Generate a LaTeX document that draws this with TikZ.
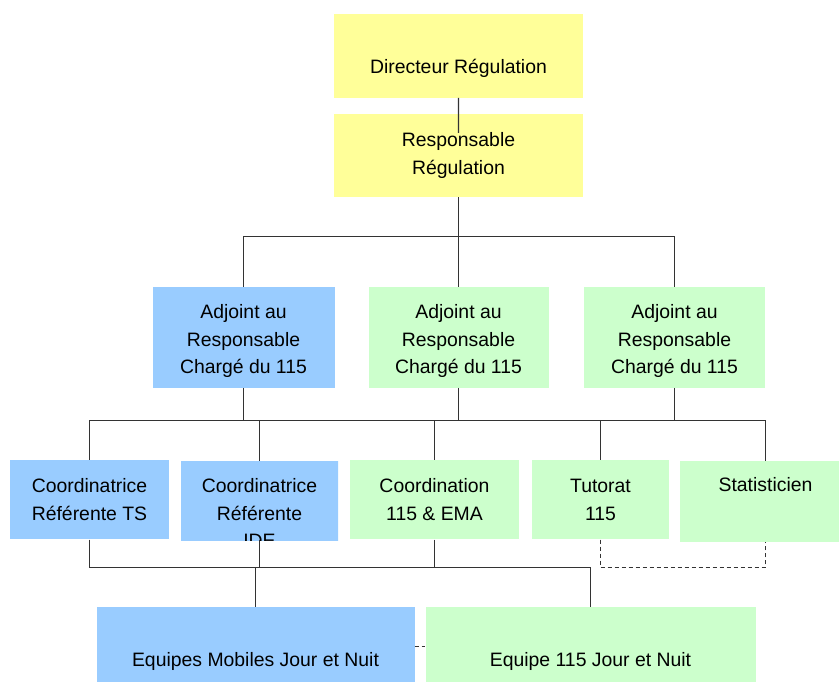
\documentclass[tikz,border=0pt]{standalone}
\usepackage{fontspec}
\setmainfont{Liberation Sans}
\usepackage{tikz}
\usetikzlibrary{
  calc,
  positioning
}
\definecolor{RegYellow}{RGB}{255,255,153}
\definecolor{RegBlue}{RGB}{153,204,255}
\definecolor{RegGreen}{RGB}{204,255,204}

\begin{document}
\begin{tikzpicture}[
  x=1pt, y=-1pt,
  font=\fontsize{19.4}{27.5}\selectfont,
  unit/.style={fill=#1, inner sep=0pt, align=center},
  unit/.default=RegGreen,
  link/.style={draw=black!80, line width=1.4pt},
  dotlink/.style={link, dash pattern=on 4pt off 3pt},
]
  \clip (0,0) rectangle (839,681);

  % direction
  \node[unit=RegYellow, minimum width=249pt, minimum height=83.5pt,
        text height=35.6pt, text depth=0pt] (dir) at (458.5,55.8) {Directeur Régulation};
  \node[unit=RegYellow, minimum width=249pt, minimum height=83pt] (resp) at (458.5,155.5) {Responsable\\Régulation};

  % adjoints
  \node[unit=RegBlue, minimum width=182pt, minimum height=101pt] (adjA) at (243.5,337.2) {\rule{0pt}{22pt}Adjoint au\\Responsable\\Chargé du 115};
  \node[unit, minimum width=180pt, minimum height=101pt] (adjB) at (458.5,337.2) {\rule{0pt}{22pt}Adjoint au\\Responsable\\Chargé du 115};
  \node[unit, minimum width=181pt, minimum height=101pt] (adjC) at (674.5,337.2) {\rule{0pt}{22pt}Adjoint au\\Responsable\\Chargé du 115};

  % coordination
  \node[unit=RegBlue, minimum width=159pt, minimum height=79.5pt] (ts) at (89.5,499.7) {Coordinatrice\\Référente TS};
  \begin{scope}
    \clip (180,461) rectangle (338,540.5);
    \node[unit=RegBlue, minimum width=158pt, minimum height=104pt] (ide) at (259.5,513) {Coordinatrice\\Référente\\IDE};
  \end{scope}
  \node[unit, minimum width=169pt, minimum height=79.5pt] (coord) at (434.5,499.7) {Coordination\\115 \& EMA};
  \node[unit, minimum width=137pt, minimum height=79.5pt] (tut) at (600.5,499.7) {Tutorat\\115};
  \node[unit, minimum width=172pt, minimum height=80.7pt,
        text height=14pt, text depth=34.6pt] (stat) at (765.5,501.3) {Statisticien};

  % equipes
  \node[unit=RegBlue, minimum width=318pt, minimum height=80pt,
        text height=39pt, text depth=0pt] (emj) at (255.5,646.7) {Equipes Mobiles Jour et Nuit};
  \node[unit, minimum width=330pt, minimum height=80pt,
        text height=39pt, text depth=0pt] (e115) at (590.5,646.7) {Equipe 115 Jour et Nuit};

  \coordinate (busA) at (458.5,236.5);
  \coordinate (busB) at (0,420.5);
  \coordinate (busC) at (0,567.5);

  \draw[link] (dir.south) -- ($(resp.north)!0.23!(resp.south)$);
  \draw[link] (resp.south) -- (busA);
  \draw[link] (adjA.north) |- (busA) -| (adjC.north);
  \draw[link] (busA) -- (adjB.north);

  \draw[link] (adjA.south) -- (adjA.south |- busB);
  \draw[link] (adjB.south) -- (adjB.south |- busB);
  \draw[link] (adjC.south) -- (adjC.south |- busB);
  \draw[link] (ts.north) |- (stat.north |- busB) -- (stat.north);
  \draw[link] (ide.north) -- (ide.north |- busB);
  \draw[link] (coord.north) -- (coord.north |- busB);
  \draw[link] (tut.north) -- (tut.north |- busB);

  \draw[link] (ts.south) |- (e115.north |- busC) -- (e115.north);
  \draw[link] (ide.north |- ts.south) -- (ide.north |- busC);
  \draw[link] (coord.south) -- (coord.south |- busC);
  \draw[link] (emj.north) -- (emj.north |- busC);
  \draw[dotlink] (tut.south) |- (stat.south |- busC) -- (stat.south);
  \draw[dotlink] (emj.east) -- (e115.west);
\end{tikzpicture}
\end{document}
